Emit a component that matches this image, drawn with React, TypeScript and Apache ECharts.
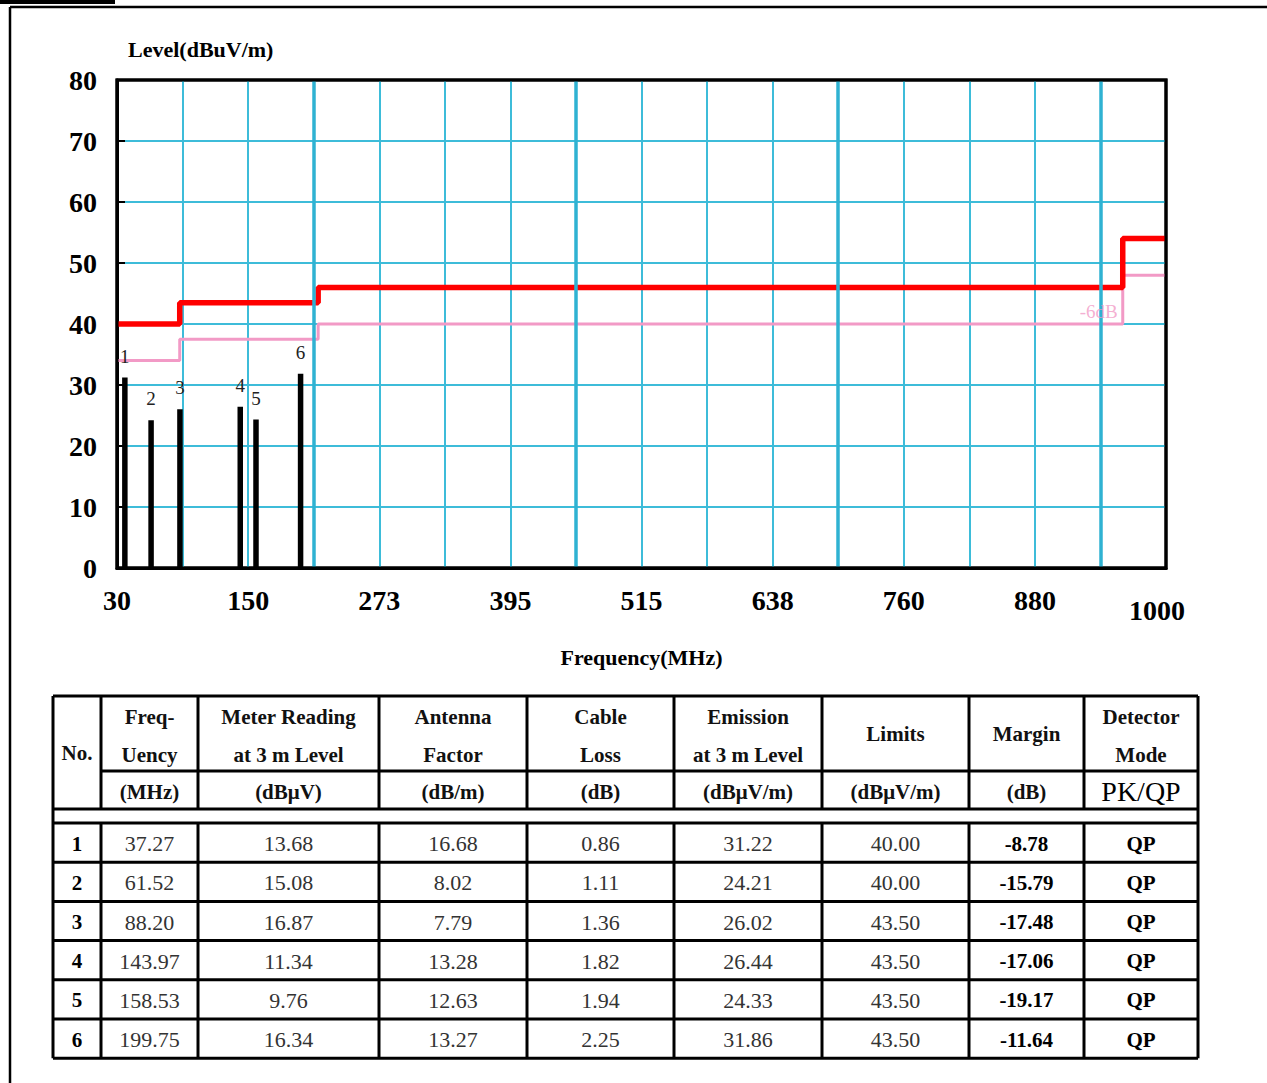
import React, { useEffect, useRef } from "react";
import * as echarts from "echarts";

// ---- data ----
const rowNo = ["1", "2", "3", "4", "5", "6"];
const freqMHz = [37.27, 61.52, 88.2, 143.97, 158.53, 199.75];
const meterReading = [13.68, 15.08, 16.87, 11.34, 9.76, 16.34];
const antennaFactor = [16.68, 8.02, 7.79, 13.28, 12.63, 13.27];
const cableLoss = [0.86, 1.11, 1.36, 1.82, 1.94, 2.25];
const emissionLevel = [31.22, 24.21, 26.02, 26.44, 24.33, 31.86];
const limitLevel = [40.0, 40.0, 43.5, 43.5, 43.5, 43.5];
const marginDb = [-8.78, -15.79, -17.48, -17.06, -19.17, -11.64];
const detectorMode = ["QP", "QP", "QP", "QP", "QP", "QP"];

const limitEdges = [30, 88, 216, 960, 1000];
const limitValues = [40, 43.5, 46, 54];
const marginOffset = -6;

const xTickLabels = ["30", "150", "273", "395", "515", "638", "760", "880", "1000"];
const xDivisions = 16;
const majorDivisions = [3, 7, 11, 15];

const headerTop = [
  ["No."],
  ["Freq-", "Uency"],
  ["Meter Reading", "at 3 m Level"],
  ["Antenna", "Factor"],
  ["Cable", "Loss"],
  ["Emission", "at 3 m Level"],
  ["Limits"],
  ["Margin"],
  ["Detector", "Mode"],
];
const headerUnits = ["", "(MHz)", "(dBμV)", "(dB/m)", "(dB)", "(dBμV/m)", "(dBμV/m)", "(dB)", "PK/QP"];

// ---- layout / style ----
const W = 1267;
const H = 1083;
const SERIF = '"Times New Roman", "Liberation Serif", serif';
const GRID_COLOR = "#3dbcd9";
const PLOT = { left: 117, top: 80, right: 1166, bottom: 568 };
const colX = [53, 101, 198, 379, 527, 674, 822, 969, 1084, 1198];
const tableTop = 696;
const headerMid = 771;
const headerBottom = 809;
const bodyTop = 823;
const rowH = 39.2;

function stepLine(edges: number[], values: number[], offset: number) {
  const pts: number[][] = [];
  for (let i = 0; i < values.length; i++) {
    pts.push([edges[i], values[i] + offset]);
    pts.push([edges[i + 1], values[i] + offset]);
  }
  return pts;
}

function buildTable(): any[] {
  const els: any[] = [];
  const line = (x1: number, y1: number, x2: number, y2: number) =>
    els.push({ type: "line", shape: { x1, y1, x2, y2 }, style: { stroke: "#000", lineWidth: 3 }, z: 10 });
  const text = (t: string, x: number, y: number, size: number, bold: boolean, color = "#111") =>
    els.push({
      type: "text",
      x,
      y,
      z: 11,
      style: {
        text: t,
        fill: color,
        fontSize: size,
        fontFamily: SERIF,
        fontWeight: bold ? "bold" : "normal",
        align: "center",
        verticalAlign: "middle",
      },
    });
  const left = colX[0];
  const right = colX[colX.length - 1];
  const bottom = bodyTop + rowH * rowNo.length;
  line(left, tableTop, right, tableTop);
  line(colX[1], headerMid, right, headerMid);
  line(left, headerBottom, right, headerBottom);
  line(left, bodyTop, right, bodyTop);
  for (let r = 1; r <= rowNo.length; r++) line(left, bodyTop + rowH * r, right, bodyTop + rowH * r);
  line(left, tableTop, left, bottom);
  line(right, tableTop, right, bottom);
  for (let c = 1; c < colX.length - 1; c++) {
    line(colX[c], tableTop, colX[c], headerBottom);
    line(colX[c], bodyTop, colX[c], bottom);
  }
  headerTop.forEach((lines, c) => {
    const cx = (colX[c] + colX[c + 1]) / 2;
    if (c === 0) {
      text(lines[0], cx, (tableTop + headerBottom) / 2, 21, true);
    } else if (lines.length === 1) {
      text(lines[0], cx, (tableTop + headerMid) / 2, 21, true);
    } else {
      text(lines[0], cx, 717, 21, true);
      text(lines[1], cx, 755, 21, true);
    }
    const u = headerUnits[c];
    if (u) {
      if (u === "PK/QP") text(u, cx, 791, 28, false, "#000");
      else text(u, cx, 792, 21, true);
    }
  });
  const columns: { vals: string[]; bold: boolean }[] = [
    { vals: rowNo, bold: true },
    { vals: freqMHz.map((v) => v.toFixed(2)), bold: false },
    { vals: meterReading.map((v) => v.toFixed(2)), bold: false },
    { vals: antennaFactor.map((v) => v.toFixed(2)), bold: false },
    { vals: cableLoss.map((v) => v.toFixed(2)), bold: false },
    { vals: emissionLevel.map((v) => v.toFixed(2)), bold: false },
    { vals: limitLevel.map((v) => v.toFixed(2)), bold: false },
    { vals: marginDb.map((v) => v.toFixed(2)), bold: true },
    { vals: detectorMode, bold: true },
  ];
  columns.forEach((col, c) => {
    const cx = (colX[c] + colX[c + 1]) / 2;
    col.vals.forEach((v, r) => {
      text(v, cx, bodyTop + rowH * (r + 0.5) + 1, col.bold ? 21 : 22, col.bold, col.bold ? "#000" : "#333");
    });
  });
  return els;
}

export default function App() {
  const ref = useRef<HTMLDivElement>(null);
  useEffect(() => {
    if (!ref.current) return;
    const chart = echarts.init(ref.current, undefined, { renderer: "svg", width: W, height: H });
    const labelFont = { fontFamily: SERIF, fontWeight: "bold" as const, color: "#000" };
    const option: any = {
      animation: false,
      backgroundColor: "#fff",
      grid: {
        left: PLOT.left,
        right: W - PLOT.right,
        top: PLOT.top,
        bottom: H - PLOT.bottom,
        show: true,
        borderColor: "#000",
        borderWidth: 3,
        backgroundColor: "#fff",
        containLabel: false,
      },
      xAxis: [
        {
          type: "value",
          position: "bottom",
          min: 0,
          max: xDivisions,
          interval: 1,
          name: "Frequency(MHz)",
          nameLocation: "middle",
          nameGap: 78,
          nameTextStyle: { ...labelFont, fontSize: 22, verticalAlign: "top" },
          axisLine: { show: true, lineStyle: { color: "#000", width: 3 } },
          axisTick: { show: false },
          splitLine: { show: true, lineStyle: { color: GRID_COLOR, width: 2 } },
          axisLabel: {
            ...labelFont,
            fontSize: 28,
            margin: 18,
            lineHeight: 28,
            formatter: (v: number) => {
              if (v % 2 !== 0) return "";
              const idx = v / 2;
              if (idx === xTickLabels.length - 1) return "{low|" + xTickLabels[idx] + "}";
              return xTickLabels[idx];
            },
            rich: {
              low: { ...labelFont, fontSize: 28, lineHeight: 48, padding: [0, 18, 0, 0] },
            },
          },
        },
        {
          type: "value",
          position: "bottom",
          min: limitEdges[0],
          max: limitEdges[limitEdges.length - 1],
          show: false,
          splitLine: { show: false },
        },
      ],
      yAxis: {
        type: "value",
        min: 0,
        max: 80,
        interval: 10,
        name: "Level(dBuV/m)",
        nameLocation: "end",
        nameGap: 20,
        nameTextStyle: { ...labelFont, fontSize: 22, align: "left", padding: [0, 0, 0, 11] },
        axisLine: { show: true, lineStyle: { color: "#000", width: 3 } },
        axisTick: { show: true, inside: true, length: 8, lineStyle: { color: "#000", width: 2 } },
        splitLine: { show: true, lineStyle: { color: GRID_COLOR, width: 2 } },
        axisLabel: { ...labelFont, fontSize: 28, margin: 20 },
      },
      series: [
        {
          type: "line",
          xAxisIndex: 0,
          data: [[0, 0]],
          showSymbol: false,
          lineStyle: { width: 0, opacity: 0 },
          silent: true,
          z: 1,
          markLine: {
            symbol: "none",
            silent: true,
            animation: false,
            label: { show: false },
            lineStyle: { color: "#2fb2d2", width: 3.5, type: "solid" },
            data: majorDivisions.map((d) => ({ xAxis: d })),
          },
        },
        {
          name: "Limit -6dB",
          type: "line",
          xAxisIndex: 1,
          data: stepLine(limitEdges, limitValues, marginOffset),
          showSymbol: false,
          lineStyle: { color: "#f29ac6", width: 3 },
          z: 3,
        },
        {
          name: "Limit",
          type: "line",
          xAxisIndex: 1,
          data: stepLine(limitEdges, limitValues, 0),
          showSymbol: false,
          lineStyle: { color: "#ff0000", width: 5.5 },
          z: 4,
        },
        {
          type: "scatter",
          xAxisIndex: 1,
          data: [[limitEdges[3], limitValues[2] + marginOffset]],
          symbolSize: 0,
          silent: true,
          z: 5,
          label: {
            show: true,
            position: "left",
            distance: 5,
            offset: [0, -13],
            formatter: marginOffset + "dB",
            fontFamily: SERIF,
            fontSize: 19,
            color: "#f29ac6",
          },
        },
        {
          name: "Emission",
          type: "bar",
          xAxisIndex: 1,
          barWidth: 5.5,
          data: freqMHz.map((f, i) => [f, emissionLevel[i]]),
          itemStyle: { color: "#000" },
          z: 6,
          label: {
            show: true,
            position: "top",
            distance: 12,
            formatter: (p: any) => rowNo[p.dataIndex],
            fontFamily: SERIF,
            fontSize: 19,
            color: "#222",
          },
        },
      ],
      graphic: [
        {
          type: "rect",
          shape: { x: PLOT.left, y: PLOT.top, width: PLOT.right - PLOT.left, height: PLOT.bottom - PLOT.top },
          style: { fill: "none", stroke: "#000", lineWidth: 3 },
          silent: true,
          z: 50,
        },
        { type: "rect", shape: { x: 0, y: 0, width: 115, height: 4 }, style: { fill: "#000" }, z: 10 },
        { type: "line", shape: { x1: 10, y1: 7, x2: W, y2: 7 }, style: { stroke: "#000", lineWidth: 2.5 }, z: 10 },
        { type: "line", shape: { x1: 10, y1: 7, x2: 10, y2: H }, style: { stroke: "#000", lineWidth: 2.5 }, z: 10 },
        ...buildTable(),
      ],
    };
    chart.setOption(option);
    return () => chart.dispose();
  }, []);
  return <div ref={ref} style={{ position: "fixed", left: 0, top: 0, width: W, height: H, background: "#fff" }} />;
}
